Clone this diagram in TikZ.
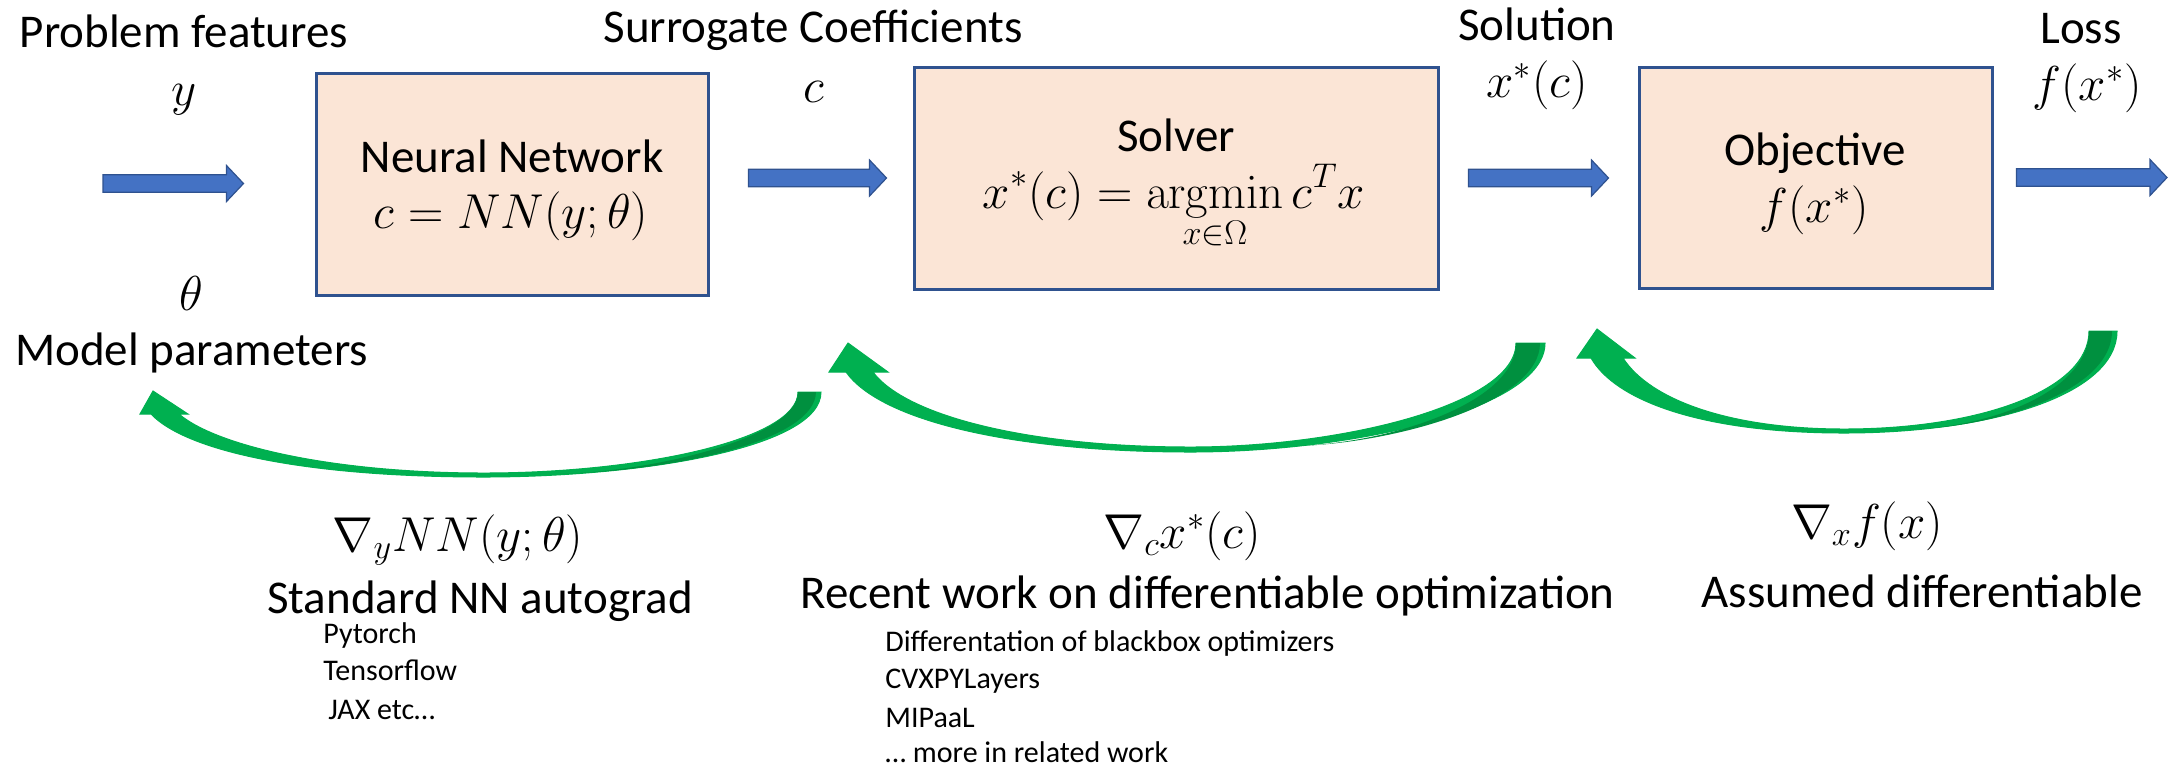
\RequirePackage{fix-cm}
\documentclass[tikz,border=0pt]{standalone}
\usepackage[no-math]{fontspec}
\setmainfont{Carlito}
\usetikzlibrary{calc}

\definecolor{boxfill}{HTML}{FBE5D6}
\definecolor{boxline}{HTML}{2F528F}
\definecolor{arrowblue}{HTML}{4472C4}
\definecolor{gradgreen}{HTML}{00B050}
\definecolor{gradshade}{HTML}{00903F}

\tikzset{
  stage/.style={draw=boxline, line width=1.5pt, fill=boxfill, inner sep=0pt},
  lbl/.style={inner sep=0pt, anchor=base, font=\fontsize{23.5}{28}\selectfont},
  sml/.style={inner sep=0pt, anchor=base west, font=\fontsize{15}{18}\selectfont},
  mth/.style={inner sep=0pt, anchor=base, font=\fontsize{24.5}{29}\selectfont},
  bluearrow/.style={fill=arrowblue, draw=boxline, line width=0.6pt, line join=miter},
  backflow/.style={fill=gradgreen, draw=gradgreen, line width=0.5pt, line join=miter},
  backshade/.style={fill=gradshade},
}

% block arrow from #1 to #2 (horizontal, at the height of #1)
\newcommand\fatarrow[2]{%
  \path[bluearrow] let \p1=(#1), \p2=(#2) in
    (\x1,\y1+4.4pt) -- (\x2-8.5pt,\y1+4.4pt) -- (\x2-8.5pt,\y1+9pt)
    -- (\x2,\y1) -- (\x2-8.5pt,\y1-9pt) -- (\x2-8.5pt,\y1-4.4pt)
    -- (\x1,\y1-4.4pt) -- cycle;}

\begin{document}
\begin{tikzpicture}[x=0.5pt,y=-0.5pt]
\useasboundingbox (0,0) rectangle (2172,768);

% pipeline stages
\node[stage, minimum width=196pt, minimum height=111pt] (nn)     at (512,184)  {};
\node[stage, minimum width=262pt, minimum height=111pt] (solver) at (1176,178) {};
\node[stage, minimum width=176.5pt, minimum height=110.5pt] (obj) at (1815.5,177.5) {};

\node[lbl] (nntitle)  at (512,172)  {Neural Network};
\node[mth] (nnmath)   at (511,228)  {$c = NN(y;\theta)$};
\node[lbl] (soltitle) at (1176,151) {Solver};
\node[mth] (solmath)  at (1174,208) {$\displaystyle x^{*}(c) = \mathop{\mathrm{argmin}}\limits_{x\in\Omega} c^{T}x$};
\node[lbl] (objtitle) at (1815,165) {Objective};
\node[mth] (objmath)  at (1814,222) {$f(x^{*})$};

% quantities passed along the pipeline
\node[lbl] (feat)  at (184,47)    {Problem features};
\node[mth] (yvar)  at (184,105)   {$y$};
\node[mth] (theta) at (191,310)   {$\theta$};
\node[lbl] (params) at (191.5,365) {Model parameters};
\node[lbl] (surr)  at (813,42)    {Surrogate Coefficients};
\node[mth] (cvar)  at (814,102)   {$c$};
\node[lbl] (soln)  at (1537,40)   {Solution};
\node[mth] (xvar)  at (1537,97)   {$x^{*}(c)$};
\node[lbl] (loss)  at (2081,43)   {Loss};
\node[mth] (fvar)  at (2087,100)  {$f(x^{*})$};

% forward pass
\coordinate (src)  at (103,183.5);
\coordinate (sink) at (2167,177.5);
\fatarrow{src}{$(nn.west)+(-71,0)$}
\fatarrow{$(nn.east |- solver.west)+(39,0)$}{$(solver.west)+(-26,0)$}
\fatarrow{$(solver.east)+(29,0)$}{$(obj.west)+(-29,0)$}
\fatarrow{$(obj.east)+(23,0)$}{sink}

% backward pass: gradient through the network
\coordinate (g1tail) at (810,392);
\coordinate (g1head) at (153,391);
\path[backflow] (821,392) .. controls (821,448) and (640,477) .. (484,477)
  .. controls (300,477) and (185,450) .. (151,414) -- (140,414) -- (g1head)
  -- (188,414) -- (179,414) .. controls (215,445) and (330,473) .. (484,473)
  .. controls (640,473) and (798,440) .. (798,392) -- cycle;
\path[backshade] (798,392) -- (816,392) .. controls (815,440) and (680,470) .. (560,474)
  .. controls (660,471) and (798,436) .. (798,392) -- cycle;

% backward pass: gradient through the solver
\coordinate (g2tail) at (1530,343);
\coordinate (g2head) at (848,343);
\path[backflow] (1545,343) .. controls (1545,410) and (1350,452) .. (1191,452)
  .. controls (1010,452) and (880,420) .. (846,372) -- (829,372) -- (g2head)
  -- (888,372) -- (873,372) .. controls (905,415) and (1025,447) .. (1191,447)
  .. controls (1340,447) and (1516,405) .. (1516,343) -- cycle;
\path[backshade] (1516,343) -- (1540,343) .. controls (1540,402) and (1400,442) .. (1300,446)
  .. controls (1400,441) and (1516,400) .. (1516,343) -- cycle;

% backward pass: gradient of the objective
\coordinate (g3tail) at (2103,331);
\coordinate (g3head) at (1597,329);
\path[backflow] (2117,331) .. controls (2117,395) and (1990,433) .. (1844,433)
  .. controls (1700,433) and (1615,400) .. (1591,358) -- (1577,358) -- (g3head)
  -- (1635,358) -- (1623,358) .. controls (1650,400) and (1730,429) .. (1844,429)
  .. controls (1980,429) and (2089,390) .. (2089,331) -- cycle;
\path[backshade] (2089,331) -- (2112,331) .. controls (2112,390) and (2000,425) .. (1920,429)
  .. controls (2000,424) and (2089,388) .. (2089,331) -- cycle;

% gradient annotations
\node[mth] (dnn)  at (458,551)  {$\nabla_{y} NN(y;\theta)$};
\node[lbl] (std)  at (480,613)  {Standard NN autograd};
\node[sml] (pt)   at (323,643)  {Pytorch};
\node[sml] (tf)   at (323,680)  {Tensorflow};
\node[sml] (jax)  at (328,719)  {JAX etc…};

\node[mth] (dsol) at (1182,548) {$\nabla_{c} x^{*}(c)$};
\node[lbl] (rec)  at (1207.5,608) {Recent work on differentiable optimization};
\node[sml] (bb)   at (885,651)  {Differentation of blackbox optimizers};
\node[sml] (cvx)  at (885,688)  {CVXPYLayers};
\node[sml] (mip)  at (885,727)  {MIPaaL};
\node[sml] (more) at (885,762)  {… more in related work};

\node[mth] (dobj) at (1867,538) {$\nabla_{x} f(x)$};
\node[lbl] (asm)  at (1922,607) {Assumed differentiable};
\end{tikzpicture}
\end{document}
